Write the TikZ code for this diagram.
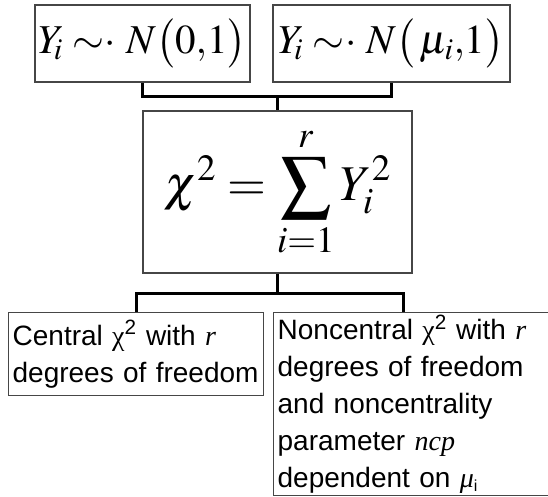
\documentclass[tikz,border=0pt]{standalone}
\usepackage{mathptmx}
\usepackage[no-math]{fontspec}
\setmainfont{Liberation Sans}
\newfontfamily\tnr{Liberation Serif}
\usetikzlibrary{positioning,calc}
\definecolor{boxgray}{RGB}{70,70,70}
\begin{document}
\begin{tikzpicture}[x=1pt,y=1pt,
        mathbox/.style={rectangle, draw=boxgray, line width=1.3pt, inner sep=0pt,
                        font=\fontsize{41}{45}\selectfont},
        textbox/.style={rectangle, draw=boxgray, line width=1.3pt, inner xsep=4pt,
                        inner ysep=2pt, align=left, anchor=north west,
                        font=\fontsize{28}{37}\selectfont},
        conn/.style={line width=3pt, black}
      ]
        \useasboundingbox (0,0) rectangle (548,-497);
        % normal variables
        \node[mathbox, minimum width=215, minimum height=77] (cen) at (142.5,-43.5)
          {$Y_{\!i}\;{\sim}\!\cdot\,N\bigl(0,\!1\bigr)$};
        \node[mathbox, minimum width=237, minimum height=77] (ncen) at (391.5,-43.5)
          {$Y_{\!i}\;{\sim}\!\cdot\,N\bigl(\,\mu_i,\!1\bigr)$};

        % sum of squares
        \node[mathbox, font=\fontsize{50}{54}\selectfont, minimum width=269,
              minimum height=162] (chi) at (277.5,-192)
          {$\displaystyle \chi^2 = \sum_{i=1}^{r} Y_i^2$};

        % resulting distributions
        \node[textbox, text width=247pt, minimum height=83] (cdist) at (8,-312)
          {Central {\tnr χ}\textsuperscript{2} with {\tnr\itshape r}\\
           degrees of freedom};
        \node[textbox, text width=277pt] (ndist) at (273,-312)
          {Noncentral {\tnr χ}\textsuperscript{2} with {\tnr\itshape r}\\
           degrees of freedom\\ and noncentrality\\ parameter {\tnr\itshape ncp}\\
           dependent on {\tnr\itshape μ}\textsubscript{\fontsize{16}{16}\selectfont i}};

        % connectors
        \coordinate (topjoin) at ($(chi.north)+(0,14)$);
        \coordinate (botjoin) at ($(chi.south)+(0,-20)$);
        \draw[conn] (cen.south) |- (topjoin) -| (ncen.south);
        \draw[conn] (topjoin) -- (chi.north);
        \draw[conn] (chi.south) -- (botjoin);
        \draw[conn] (cdist.north) |- (botjoin) -| ([xshift=-13pt]ndist.north);
      \end{tikzpicture}
\end{document}
